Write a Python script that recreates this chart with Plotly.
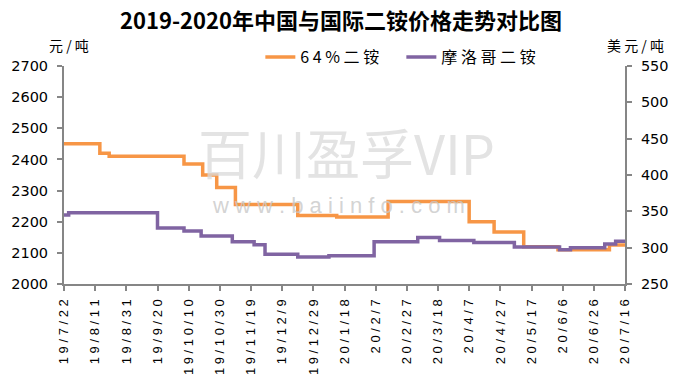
import plotly.graph_objects as go
from datetime import date, timedelta

# 64%二铵 (元/吨, left axis) - change points
cn_dates = ['2019-07-22', '2019-08-14', '2019-08-20', '2019-10-07', '2019-10-19',
            '2019-10-28', '2019-11-09', '2019-12-19', '2020-01-13', '2020-02-15',
            '2020-04-07', '2020-04-23', '2020-05-12', '2020-06-03', '2020-07-06',
            '2020-07-16']
cn_values = [2450, 2420, 2410, 2385, 2350, 2310, 2255, 2220, 2215, 2265,
             2200, 2167, 2120, 2110, 2125, 2125]

# 摩洛哥二铵 (美元/吨, right axis) - change points
ma_dates = ['2019-07-22', '2019-07-25', '2019-09-20', '2019-10-07', '2019-10-18',
            '2019-11-07', '2019-11-21', '2019-11-28', '2019-12-19', '2020-01-08',
            '2020-02-06', '2020-03-05', '2020-03-19', '2020-04-10', '2020-05-06',
            '2020-06-04', '2020-06-11', '2020-07-03', '2020-07-10', '2020-07-16']
ma_values = [345, 348, 327, 323, 316, 308, 304, 291, 287, 289,
             308, 314, 310, 307, 301, 297, 300, 305, 309, 309]

# x tick labels (every 20 days)
start = date(2019, 7, 22)
tick_dates = [start + timedelta(days=20 * i) for i in range(19)]
tick_labels = [f"{d.year % 100}/{d.month}/{d.day}" for d in tick_dates]
tick_text = [" ".join(list(t)) for t in tick_labels]

FONT = "Noto Sans CJK SC"

fig = go.Figure()
fig.add_trace(go.Scatter(x=cn_dates, y=cn_values, name="6 4 % 二 铵", mode="lines",
                         line=dict(color="#F79646", width=3.5, shape="hv"), yaxis="y"))
fig.add_trace(go.Scatter(x=ma_dates, y=ma_values, name="摩 洛 哥 二 铵", mode="lines",
                         line=dict(color="#8064A2", width=3.5, shape="hv"), yaxis="y2"))

axis_common = dict(showline=True, linecolor="#868686", linewidth=2, ticks="outside",
                   tickcolor="#868686", ticklen=5, tickwidth=1.5, showgrid=False, zeroline=False)

fig.update_layout(
    width=682, height=377,
    margin=dict(l=64, r=57, t=66, b=93, autoexpand=False),
    paper_bgcolor="white", plot_bgcolor="white",
    font=dict(family=FONT, color="#000000"),
    title=dict(text="<b>2019-2020年中国与国际二铵价格走势对比图</b>", x=0.5, xanchor="center",
               y=0.944, yanchor="middle", font=dict(size=22, family=FONT, color="#000")),
    showlegend=True,
    legend=dict(orientation="h", x=0.350, xanchor="left", y=1.041, yanchor="middle",
                font=dict(size=16, family=FONT), bgcolor="rgba(0,0,0,0)",
                entrywidth=96, entrywidthmode="pixels", tracegroupgap=0),
    xaxis=dict(type="date", range=["2019-07-22", "2020-07-16"],
               tickvals=[d.isoformat() for d in tick_dates], ticktext=tick_text,
               tickangle=-90, tickfont=dict(size=13, family="Arial"),
               ticklabelstandoff=3, **axis_common),
    yaxis=dict(range=[2000, 2700], dtick=100, tickfont=dict(size=14.5, family="DejaVu Sans"),
               ticklabelstandoff=6, **axis_common),
    yaxis2=dict(range=[250, 550], dtick=50, overlaying="y", side="right",
                tickfont=dict(size=14.5, family="DejaVu Sans"), ticklabelstandoff=6,
                **axis_common),
    annotations=[
        dict(text="元 / 吨", xref="paper", yref="paper", x=0.009, y=1.096, showarrow=False,
             font=dict(size=14, family=FONT), xanchor="center", yanchor="middle"),
        dict(text="美 元 / 吨", xref="paper", yref="paper", x=1.018, y=1.096, showarrow=False,
             font=dict(size=14, family=FONT), xanchor="center", yanchor="middle"),
        dict(text="百川盈孚VIP", xref="paper", yref="paper", x=0.504, y=0.606, showarrow=False,
             yanchor="middle",
             font=dict(size=54, family=FONT, color="rgba(218,218,218,0.75)")),
        dict(text="w w w . b a i i n f o . c o m", xref="paper", yref="paper", x=0.49, y=0.362,
             showarrow=False, yanchor="middle",
             font=dict(size=22, family="Arial", color="rgba(200,200,200,0.8)")),
    ],
)

fig.write_html("out.html", config={"displayModeBar": False},
               post_script="document.body.style.margin='0';document.body.style.padding='0';")
